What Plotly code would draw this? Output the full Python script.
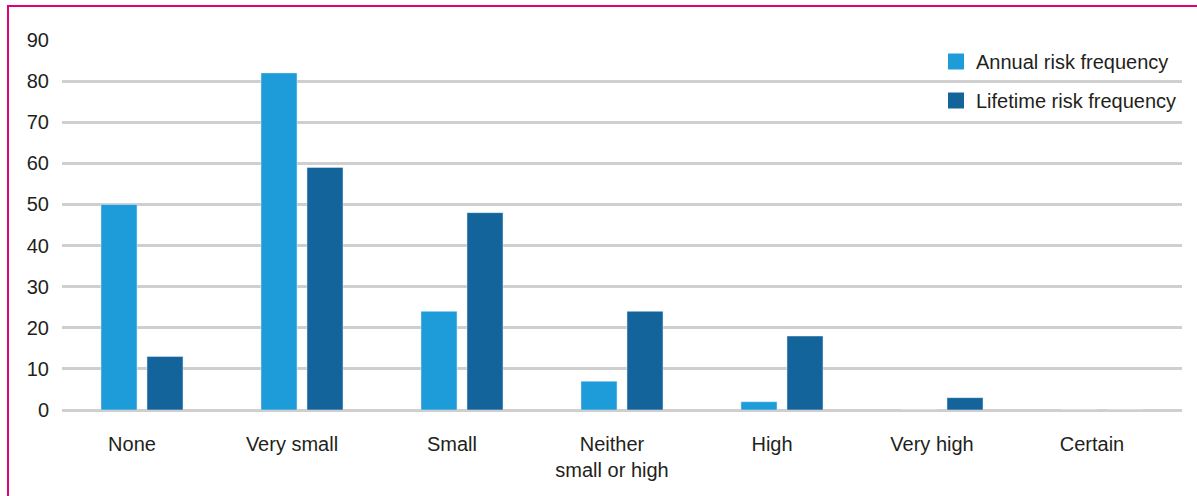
import plotly.graph_objects as go

categories = ["None", "Very small", "Small", "Neither<br>small or high", "High", "Very high", "Certain"]
annual = [50, 82, 24, 7, 2, 0, 0]
lifetime = [13, 59, 48, 24, 18, 3, 0]
series_names = ["Annual risk frequency", "Lifetime risk frequency"]
colors = ["#1d9cd9", "#12649b"]
y_ticks = [0, 10, 20, 30, 40, 50, 60, 70, 80, 90]

FONT = "Liberation Sans, Arial, Helvetica, sans-serif"
TXT = "#231f20"
FS = 20

fig = go.Figure()
for name, vals, col in zip(series_names, [annual, lifetime], colors):
    fig.add_trace(go.Bar(x=categories, y=vals, name=name, marker_color=col,
                         showlegend=False))
# legend entries with larger square swatches
for name, col in zip(series_names, colors):
    fig.add_trace(go.Scatter(x=[None], y=[None], mode="markers", name=name,
                             legendgroup=name,
                             marker=dict(symbol="square", size=17, color=col)))

L, R, T, B = 62, 15, 40, 86
W, H = 1197, 496
pw = W - L - R
ph = H - T - B

fig.update_layout(
    width=W, height=H,
    margin=dict(l=L, r=R, t=T, b=B),
    paper_bgcolor="white", plot_bgcolor="white",
    barmode="group", bargap=0.425, bargroupgap=0.217,
    font=dict(family=FONT, size=FS, color=TXT),
    legend=dict(x=(936 - L) / pw, y=(410 - 42) / ph, xanchor="left", yanchor="top",
                bgcolor="rgba(0,0,0,0)", font=dict(size=FS, color=TXT),
                traceorder="grouped", tracegroupgap=10, itemwidth=30),
    xaxis=dict(showgrid=False, showline=False, ticks="outside", ticklen=16,
               tickcolor="rgba(0,0,0,0)", tickfont=dict(size=FS, color=TXT),
               ticklabelshift=-10),
    yaxis=dict(range=[0, 90], tickvals=y_ticks, showgrid=True, gridcolor="#cfcfcf",
               gridwidth=2.5, zeroline=True, zerolinecolor="#cfcfcf", zerolinewidth=2.5,
               showline=False, ticks="outside", ticklen=8, tickcolor="rgba(0,0,0,0)",
               tickfont=dict(size=FS, color=TXT)),
    shapes=[dict(type="rect", xref="paper", yref="paper",
                 x0=(8 - L) / pw, x1=(1300 - L) / pw,
                 y0=(410 - 600) / ph, y1=(410 - 6) / ph,
                 line=dict(color="#e0007a", width=2), fillcolor="rgba(0,0,0,0)", layer="above")],
)

fig.write_html("out.html")
